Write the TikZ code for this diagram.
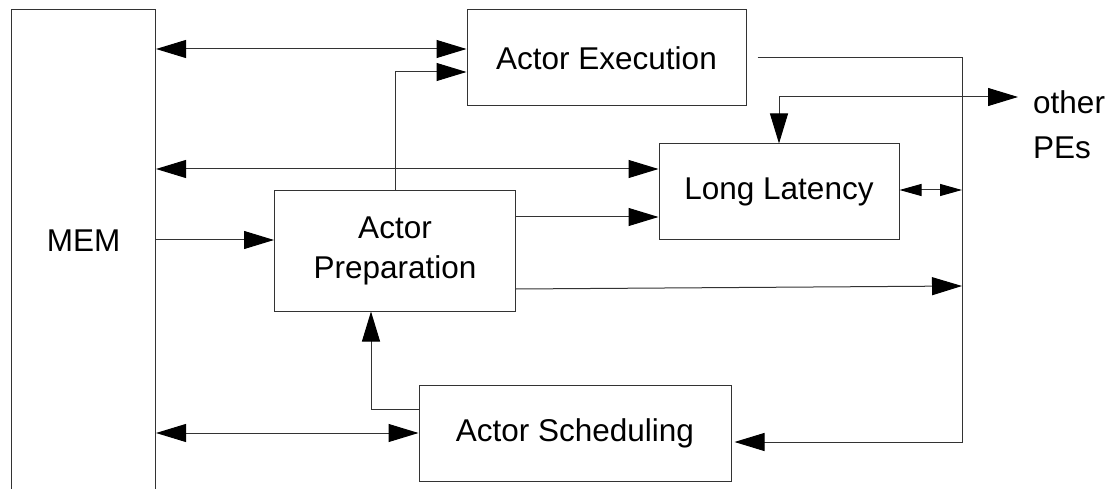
\documentclass[tikz,border=0pt]{standalone}
\usepackage{fontspec}
\setmainfont{Liberation Sans}
\usetikzlibrary{arrows.meta, positioning}

\begin{document}
\begin{tikzpicture}[
    x=1pt, y=-1pt,
    font=\fontsize{31.5}{40}\selectfont,
    block/.style={rectangle, draw=black!80, line width=1pt, text centered, inner sep=0pt},
    arrow/.style={draw=black!80, line width=1pt, -{Triangle[length=30pt, width=18pt, color=black]}},
    biarrow/.style={draw=black!80, line width=1pt, {Triangle[length=30pt, width=18pt, color=black]}-{Triangle[length=30pt, width=18pt, color=black]}},
    smallbiarrow/.style={draw=black!80, line width=1pt, {Triangle[length=22pt, width=12pt, color=black]}-{Triangle[length=22pt, width=12pt, color=black]}}
]
    \useasboundingbox (0,0) rectangle (1114,489);

    % Memory
    \node[block, anchor=north, minimum width=143.7pt, minimum height=540pt] (mem) at (83.7,9.5) {};
    \node (memlabel) at (mem.north |- 0,241) {MEM};

    % Actor blocks
    \node[block, minimum width=279pt, minimum height=96pt] (exec) at (606.5,58) {Actor Execution};
    \node[block, minimum width=240pt, minimum height=96pt] (latency) at (779,192) {Long Latency};
    \node[block, minimum width=241pt, minimum height=120pt, align=center] (prep) at (395,251) {Actor\\Preparation};
    \node[block, minimum width=312pt, minimum height=96pt] (sched) at (575,433) {Actor Scheduling};

    % Other PEs
    \node[anchor=north west, align=left, inner xsep=15pt, inner ysep=0pt, font=\fontsize{31.5}{45}\selectfont] (pes) at (1018,90) {other\\PEs};

    % Bus
    \coordinate (bus) at (962,0);

    % Memory links
    \draw[biarrow] (mem.east |- 0,49) -- (exec.west |- 0,49);
    \draw[biarrow] (mem.east |- 0,169) -- (latency.west |- 0,169);
    \draw[arrow] (mem.east |- 0,240) -- (prep.west |- 0,240);
    \draw[biarrow] (mem.east |- sched.west) -- (sched.west);

    % Preparation
    \draw[arrow] (prep.north) |- (exec.west |- 0,72);
    \draw[arrow] (prep.east |- 0,217) -- (latency.west |- 0,217);
    \draw[arrow] (prep.east |- 0,289) -- (bus |- 0,286);

    % Scheduling
    \draw[arrow] (sched.west |- 0,409) -| (prep.south -| 371,0);

    % Execution to scheduling
    \draw[arrow, shorten <=11pt, shorten >=3pt] (exec.east) -- (bus |- exec.east) -- (bus |- 0,442) -- (sched.east |- 0,442);

    % Long latency
    \draw[smallbiarrow] (latency.east |- 0,190) -- (bus |- 0,190);
    \draw[biarrow] (latency.north) |- (pes.west |- 0,97);

\end{tikzpicture}
\end{document}
